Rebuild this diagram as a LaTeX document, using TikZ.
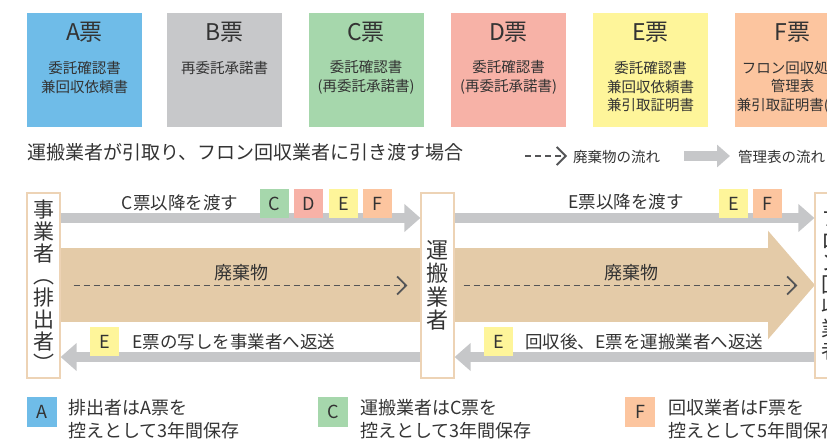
\documentclass[tikz,border=0pt]{standalone}
\usepackage{fontspec}
\setmainfont{Noto Sans CJK JP}
\usetikzlibrary{arrows.meta,positioning}
\definecolor{slipA}{HTML}{6FBCE8}
\definecolor{slipB}{HTML}{C7C8CA}
\definecolor{slipC}{HTML}{A6D7AC}
\definecolor{slipD}{HTML}{F7B2A7}
\definecolor{slipE}{HTML}{FEF59A}
\definecolor{slipF}{HTML}{FCC59F}
\definecolor{flowgray}{HTML}{C6C7C9}
\definecolor{wastetan}{HTML}{E4CBA8}
\definecolor{boxline}{HTML}{EDD3B5}
\definecolor{ink}{HTML}{333333}
\definecolor{dashgray}{HTML}{545557}
\tikzstyle{slip} = [minimum width=115pt, minimum height=114pt, inner sep=0pt]
\tikzstyle{sliptitle} = [text=ink, font=\fontsize{23}{23}\selectfont]
\tikzstyle{slipbody} = [text=ink, align=center, inner sep=0pt, font=\fontsize{14.5}{18.5}\selectfont]
\tikzstyle{party} = [draw=boxline, line width=1.2pt, fill=white, minimum width=33pt, minimum height=185pt, inner sep=0pt, align=center, text=ink]
\tikzstyle{tag} = [minimum size=29pt, inner sep=0pt, text=ink, font=\fontsize{18}{18}\selectfont]
\tikzstyle{manifest} = [line width=10pt, draw=flowgray, -{Triangle[length=16pt,width=27pt]}]
\tikzstyle{band} = [line width=74pt, draw=wastetan, -{Triangle[length=47pt,width=106pt]}]
\tikzstyle{waste} = [line width=1.8pt, draw=dashgray, dash pattern=on 6pt off 4pt, -{Straight Barb[length=9pt,width=18pt]}]
\tikzstyle{say} = [text=ink, inner sep=0pt, font=\fontsize{17.5}{17.5}\selectfont]
\tikzstyle{memo} = [text=ink, inner sep=0pt, align=left, font=\fontsize{18}{22.5}\selectfont]

\begin{document}
\begin{tikzpicture}[x=1pt,y=-1pt]
%\draw[help lines,step=20] (0,0) grid (827,440);
\useasboundingbox (0,0) rectangle (827,440);
\clip (0,0) rectangle (827,440);

% slips
\node[slip, fill=slipA] (sA) at (84.5,70) {};
\node[slip, fill=slipB] (sB) at (224.5,70) {};
\node[slip, fill=slipC] (sC) at (366,70) {};
\node[slip, fill=slipD] (sD) at (508.5,70) {};
\node[slip, fill=slipE] (sE) at (650.5,70) {};
\node[slip, fill=slipF] (sF) at (792.5,70) {};
\node[sliptitle] at (84.5,32) {A票};
\node[sliptitle] at (224.5,32) {B票};
\node[sliptitle] at (366,32) {C票};
\node[sliptitle] at (508.5,32) {D票};
\node[sliptitle] at (650.5,32) {E票};
\node[sliptitle] at (792.5,32) {F票};
\node[slipbody] at (84.5,77.5) {委託確認書\\兼回収依頼書};
\node[slipbody] at (224.5,68) {再委託承諾書};
\node[slipbody] at (366,77.5) {委託確認書\\(再委託承諾書)};
\node[slipbody] at (508.5,77.5) {委託確認書\\(再委託承諾書)};
\node[slipbody] at (650.5,87) {委託確認書\\兼回収依頼書\\兼引取証明書};
\node[slipbody] at (792.5,87) {フロン回収処理\\管理表\\兼引取証明書(写)};

% heading and legend
\node[text=ink, inner sep=0pt, anchor=west, font=\fontsize{19}{19}\selectfont] (head) at (27,152) {運搬業者が引取り、フロン回収業者に引き渡す場合};
\coordinate (lw1) at (525,156);
\coordinate (lw2) at (567,156);
\draw[waste] (lw1) -- (lw2);
\node[text=ink, inner sep=0pt, anchor=west, font=\fontsize{14.5}{14.5}\selectfont] (lwt) at (573,157) {廃棄物の流れ};
\coordinate (lm1) at (684,156);
\coordinate (lm2) at (730,156);
\draw[line width=10pt, draw=flowgray, -{Triangle[length=13pt,width=22pt]}] (lm1) -- (lm2);
\node[text=ink, inner sep=0pt, anchor=west, font=\fontsize{14.5}{14.5}\selectfont] (lmt) at (738,157) {管理表の流れ};

% waste band
\coordinate (bandL) at (60,285);
\coordinate (bandR) at (815,285);
\draw[band] (bandL) -- (bandR);

% parties
\node[party, font=\fontsize{21}{22}\selectfont] (giver) at (43.5,285.5) {事\\業\\者\\︵\\排\\出\\者\\︶};
\node[party, font=\fontsize{22}{23.5}\selectfont] (carrier) at (437.5,285.5) {運\\搬\\業\\者};
\node[party, font=\fontsize{21}{22}\selectfont] (recover) at (831.5,285.5) {フ\\ロ\\ン\\回\\収\\業\\者};

% manifest flow
\draw[manifest] ([yshift=67.5pt]giver.east) -- ([yshift=67.5pt]carrier.west);
\draw[manifest] ([yshift=67.5pt]carrier.east) -- ([yshift=67.5pt]recover.west);
\draw[manifest] ([yshift=-71.5pt]carrier.west) -- ([yshift=-71.5pt]giver.east);
\draw[manifest] ([yshift=-71.5pt]recover.west) -- ([yshift=-71.5pt]carrier.east);

\node[say] (pass1) at (180,203) {C票以降を渡す};
\node[tag, fill=slipC] (tC) at (274.5,203.5) {C};
\node[tag, fill=slipD, right=5pt of tC] (tD) {D};
\node[tag, fill=slipE, right=5pt of tD] (tE) {E};
\node[tag, fill=slipF, right=5pt of tE] (tF) {F};
\node[say] (pass2) at (626,202) {E票以降を渡す};
\node[tag, fill=slipE] (tE2) at (733.5,203.5) {E};
\node[tag, fill=slipF, right=5pt of tE2] (tF2) {F};

\node[tag, fill=slipE] (back1) at (104.5,341.5) {E};
\node[say, anchor=west] at (132,342) {E票の写しを事業者へ返送};
\node[tag, fill=slipE] (back2) at (498.5,341.5) {E};
\node[say, anchor=west] at (525,342) {回収後、E票を運搬業者へ返送};

% waste
\draw[waste] ([xshift=13pt]giver.east) -- ([xshift=-13pt]carrier.west);
\draw[waste] ([xshift=9pt]carrier.east) -- ([xshift=-17pt]recover.west);
\node[say, font=\fontsize{18}{18}\selectfont] at (241,273) {廃棄物};
\node[say, font=\fontsize{18}{18}\selectfont] at (631,273) {廃棄物};

% notes
\node[tag, fill=slipA, minimum size=30pt] (nA) at (42,412) {A};
\node[memo, anchor=west] at (68,419) {排出者はA票を\\控えとして3年間保存};
\node[tag, fill=slipC, minimum size=30pt] (nC) at (333,412) {C};
\node[memo, anchor=west] at (360,419) {運搬業者はC票を\\控えとして3年間保存};
\node[tag, fill=slipF, minimum size=30pt] (nF) at (640,412) {F};
\node[memo, anchor=west] at (668,419) {回収業者はF票を\\控えとして5年間保存};
\end{tikzpicture}
\end{document}
